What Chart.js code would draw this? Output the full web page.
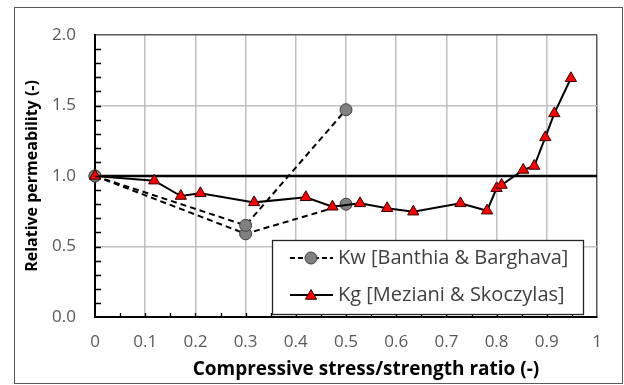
<!DOCTYPE html>
<html>
<head>
<meta charset="utf-8">
<script src="https://cdn.jsdelivr.net/npm/chart.js@4.4.1/dist/chart.umd.min.js"></script>
<style>
html, body { margin: 0; padding: 0; background: #fff; }
#wrap { width: 624px; height: 385px; position: relative; }
</style>
</head>
<body>
<div id="wrap"><canvas id="chart"></canvas></div>
<script>
// Kw [Banthia & Barghava], two test runs
const kwStressA = [0, 0.3, 0.5]
const kwPermA = [1.0, 0.65, 1.47]
const kwStressB = [0, 0.3, 0.5]
const kwPermB = [1.0, 0.59, 0.80]

// Kg [Meziani & Skoczylas]
const kgStress = [0, 0.118, 0.171, 0.21, 0.317, 0.42, 0.473, 0.528, 0.582, 0.634, 0.728, 0.781, 0.80, 0.81, 0.853, 0.875, 0.897, 0.915, 0.948]
const kgPerm = [1.0, 0.967, 0.858, 0.877, 0.813, 0.849, 0.782, 0.806, 0.771, 0.747, 0.806, 0.754, 0.913, 0.936, 1.043, 1.071, 1.274, 1.444, 1.693]

// reference line at relative permeability = 1
const refStress = [0, 1]
const refPerm = [1, 1]

const xTicks = [0, 0.1, 0.2, 0.3, 0.4, 0.5, 0.6, 0.7, 0.8, 0.9, 1]
const yTicks = [0, 0.5, 1.0, 1.5, 2.0]
const legendLabels = ['Kw [Banthia & Barghava]', 'Kg [Meziani & Skoczylas]']
const xTitle = 'Compressive stress/strength ratio (-)'
const yTitle = 'Relative permeability (-)'

const toPoints = (xs, ys) => xs.map((x, i) => ({ x: x, y: ys[i] }))

const FONT = "'Open Sans', 'Noto Sans', sans-serif"
const kwStyle = { pointStyle: 'circle', pointRadius: 6, pointBackgroundColor: '#808080', pointBorderColor: '#404040', pointBorderWidth: 1 }
const kgStyle = { pointStyle: 'triangle', pointRadius: 6.5, pointBackgroundColor: '#ff0000', pointBorderColor: '#300000', pointBorderWidth: 1 }

function drawCircle(ctx, x, y) {
    ctx.beginPath()
    ctx.arc(x, y, kwStyle.pointRadius, 0, Math.PI * 2)
    ctx.fillStyle = kwStyle.pointBackgroundColor
    ctx.fill()
    ctx.lineWidth = 1
    ctx.strokeStyle = kwStyle.pointBorderColor
    ctx.stroke()
}

function drawTriangle(ctx, x, y) {
    const r = kgStyle.pointRadius
    ctx.beginPath()
    for (let k = 0; k < 3; k++) {
        const a = k * 2 * Math.PI / 3
        const px = x + Math.sin(a) * r, py = y - Math.cos(a) * r
        if (k === 0) ctx.moveTo(px, py); else ctx.lineTo(px, py)
    }
    ctx.closePath()
    ctx.fillStyle = kgStyle.pointBackgroundColor
    ctx.fill()
    ctx.lineWidth = 1
    ctx.strokeStyle = kgStyle.pointBorderColor
    ctx.stroke()
}

// frame, minor ticks, legend and x title
const decor = {
    id: 'decor',
    beforeDraw(chart) {
        const ctx = chart.ctx
        ctx.save()
        ctx.fillStyle = '#fff'
        ctx.fillRect(0, 0, chart.width, chart.height)
        ctx.strokeStyle = '#595959'
        ctx.lineWidth = 1
        ctx.strokeRect(14.5, 7.5, 608, 376)
        ctx.restore()
    },
    afterDraw(chart) {
        const ctx = chart.ctx
        const ca = chart.chartArea
        const xs = chart.scales.x, ys = chart.scales.y
        ctx.save()
        // minor ticks
        ctx.strokeStyle = '#000'
        ctx.lineWidth = 1.3
        ctx.beginPath()
        for (let i = 1; i < 20; i++) {
            const py = Math.round(ys.getPixelForValue(i / 10)) + 0.5
            ctx.moveTo(ca.left, py); ctx.lineTo(ca.left + 6, py)
        }
        for (let i = 1; i < 20; i++) {
            const px = Math.round(xs.getPixelForValue(i / 20)) + 0.5
            ctx.moveTo(px, ca.bottom); ctx.lineTo(px, ca.bottom - 4)
        }
        ctx.stroke()

        // legend
        const bx = ca.left + 177, by = ca.top + 205, bw = 311, bh = 74
        ctx.fillStyle = '#fff'
        ctx.fillRect(bx, by, bw, bh)
        ctx.strokeStyle = '#262626'
        ctx.lineWidth = 1.3
        ctx.strokeRect(bx + 0.5, by + 0.5, bw, bh)
        const rows = [by + 18, by + 55]
        ctx.lineWidth = 2
        ctx.strokeStyle = '#000'
        ctx.setLineDash([5, 3])
        ctx.beginPath(); ctx.moveTo(bx + 18, rows[0]); ctx.lineTo(bx + 61, rows[0]); ctx.stroke()
        ctx.setLineDash([])
        ctx.beginPath(); ctx.moveTo(bx + 18, rows[1]); ctx.lineTo(bx + 61, rows[1]); ctx.stroke()
        drawCircle(ctx, bx + 39, rows[0])
        drawTriangle(ctx, bx + 39, rows[1] + 1)
        ctx.fillStyle = '#404040'
        ctx.font = '20px ' + FONT
        ctx.textBaseline = 'middle'
        ctx.textAlign = 'left'
        ctx.fillText(legendLabels[0], bx + 66, rows[0])
        ctx.fillText(legendLabels[1], bx + 66, rows[1])

        // x axis title
        ctx.fillStyle = '#000'
        ctx.font = 'bold 19px ' + FONT
        ctx.textAlign = 'center'
        ctx.fillText(xTitle, 366, 370)
        ctx.restore()
    }
}

new Chart(document.getElementById('chart'), {
    type: 'scatter',
    data: {
        datasets: [
            Object.assign({
                label: legendLabels[0],
                data: toPoints(kwStressA, kwPermA),
                showLine: true,
                borderColor: '#000',
                borderWidth: 2,
                borderDash: [6, 4],
                clip: false,
                order: 2
            }, kwStyle),
            Object.assign({
                label: legendLabels[0] + ' b',
                data: toPoints(kwStressB, kwPermB),
                showLine: true,
                borderColor: '#000',
                borderWidth: 2,
                borderDash: [6, 4],
                clip: false,
                order: 2
            }, kwStyle),
            Object.assign({
                label: legendLabels[1],
                data: toPoints(kgStress, kgPerm),
                showLine: true,
                borderColor: '#000',
                borderWidth: 2,
                clip: false,
                order: 1
            }, kgStyle),
            {
                label: 'ref',
                data: toPoints(refStress, refPerm),
                showLine: true,
                borderColor: '#000',
                borderWidth: 2.5,
                pointRadius: 0,
                order: 5
            }
        ]
    },
    options: {
        responsive: true,
        maintainAspectRatio: false,
        animation: false,
        devicePixelRatio: 1,
        layout: { padding: { left: 0, top: 35, right: 27, bottom: 0 } },
        plugins: {
            legend: { display: false },
            tooltip: { enabled: false }
        },
        scales: {
            x: {
                type: 'linear',
                min: 0,
                max: 1,
                afterFit: s => { s.height = 68 },
                afterBuildTicks: s => { s.ticks = xTicks.map(v => ({ value: v })) },
                border: { color: '#000', width: 2 },
                grid: {
                    color: c => c.tick && c.tick.value === 1 ? '#595959' : '#c0c0c0',
                    lineWidth: 1.5,
                    drawTicks: false
                },
                ticks: {
                    padding: 15,
                    color: '#595959',
                    font: { family: FONT, size: 17 },
                    callback: v => String(+v.toFixed(1))
                }
            },
            y: {
                type: 'linear',
                min: 0,
                max: 2,
                afterFit: s => { s.width = 95 },
                afterBuildTicks: s => { s.ticks = yTicks.map(v => ({ value: v })) },
                border: { color: '#000', width: 2 },
                grid: {
                    color: c => c.tick && c.tick.value === 2 ? '#595959' : '#c0c0c0',
                    lineWidth: 1.5,
                    drawTicks: false
                },
                ticks: {
                    padding: 19,
                    color: '#595959',
                    font: { family: FONT, size: 17 },
                    callback: v => v.toFixed(1)
                },
                title: {
                    display: true,
                    text: yTitle,
                    color: '#000',
                    font: { family: FONT, size: 16, weight: 'bold' },
                    padding: { top: 23, bottom: 0 }
                }
            }
        }
    },
    plugins: [decor]
})
</script>
</body>
</html>
